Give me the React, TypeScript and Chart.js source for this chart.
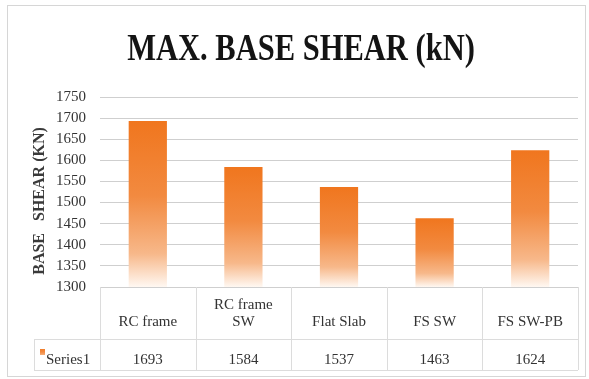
import React, { useEffect, useRef } from "react";
import { Chart, registerables } from "chart.js";

Chart.register(...registerables);

// Chart content
const TITLE = "MAX. BASE SHEAR (kN)";
const Y_TITLE = "BASE   SHEAR (KN)";
const SERIES_NAME = "Series1";
const CATEGORIES = ["RC frame", "RC frame SW", "Flat Slab", "FS SW", "FS SW-PB"];
const BASE_SHEAR = [1693, 1584, 1537, 1463, 1624];
const Y_MIN = 1300;
const Y_MAX = 1750;
const Y_STEP = 50;

const SERIF = '"Liberation Serif", "Times New Roman", serif';
const TEXT = "#333333";
const GRID = "#cfcfcf";
const TABLE_LINE = "#dcdcdc";

function barGradient(ctx: CanvasRenderingContext2D, top: number, bottom: number) {
  const g = ctx.createLinearGradient(0, top, 0, bottom);
  g.addColorStop(0, "rgb(240,118,30)");
  g.addColorStop(0.45, "rgb(242,138,64)");
  g.addColorStop(0.8, "rgb(247,184,138)");
  g.addColorStop(1, "rgb(255,248,242)");
  return g;
}

function wrapText(ctx: CanvasRenderingContext2D, text: string, maxWidth: number): string[] {
  const words = text.split(" ");
  const lines: string[] = [];
  let line = "";
  for (const w of words) {
    const test = line ? line + " " + w : w;
    if (line && ctx.measureText(test).width > maxWidth) {
      lines.push(line);
      line = w;
    } else {
      line = test;
    }
  }
  if (line) lines.push(line);
  return lines;
}

// Draws the frame, the title, the vertical axis title and the data table under the plot
const decorations = {
  id: "decorations",
  afterDraw(chart: any) {
    const ctx: CanvasRenderingContext2D = chart.ctx;
    const area = chart.chartArea;
    const xScale = chart.scales.x;
    const n = CATEGORIES.length;
    const colW = (area.right - area.left) / n;

    ctx.save();

    // outer frame
    ctx.strokeStyle = "#d6d6d6";
    ctx.lineWidth = 1;
    ctx.strokeRect(7.5, 5.5, 578, 371);

    // title
    ctx.save();
    ctx.fillStyle = "#141414";
    ctx.font = `bold 37px ${SERIF}`;
    ctx.textAlign = "center";
    ctx.textBaseline = "alphabetic";
    ctx.translate(301, 60);
    ctx.scale(0.825, 1);
    ctx.fillText(TITLE, 0, 0);
    ctx.restore();

    // vertical axis title
    ctx.save();
    ctx.fillStyle = "#3a3a3a";
    ctx.font = `bold 16px ${SERIF}`;
    ctx.textAlign = "center";
    ctx.textBaseline = "middle";
    ctx.translate(40, 201);
    ctx.rotate(-Math.PI / 2);
    ctx.fillText(Y_TITLE, 0, 0);
    ctx.restore();

    // data table
    const tTop = area.bottom;
    const tMid = 339;
    const tBottom = 370;
    const legendLeft = 34;

    ctx.strokeStyle = TABLE_LINE;
    ctx.lineWidth = 1;
    ctx.beginPath();
    ctx.moveTo(legendLeft, tMid + 0.5);
    ctx.lineTo(area.right, tMid + 0.5);
    ctx.moveTo(legendLeft, tBottom + 0.5);
    ctx.lineTo(area.right, tBottom + 0.5);
    ctx.moveTo(legendLeft + 0.5, tMid);
    ctx.lineTo(legendLeft + 0.5, tBottom);
    for (let i = 0; i <= n; i++) {
      const x = Math.round(area.left + i * colW) + 0.5;
      ctx.moveTo(x, tTop);
      ctx.lineTo(x, tBottom);
    }
    ctx.stroke();

    ctx.fillStyle = TEXT;
    ctx.font = `15px ${SERIF}`;
    ctx.textAlign = "center";
    ctx.textBaseline = "alphabetic";
    CATEGORIES.forEach((label, i) => {
      const cx = xScale.getPixelForValue(i);
      const lines = wrapText(ctx, label, colW - 20);
      const lastBaseline = 326;
      lines.forEach((ln, j) => {
        ctx.fillText(ln, cx, lastBaseline - (lines.length - 1 - j) * 17);
      });
      ctx.fillText(String(BASE_SHEAR[i]), cx, 364);
    });

    // legend key and series name
    ctx.fillStyle = barGradient(ctx, 347, 358);
    ctx.fillRect(40, 349, 5, 6);
    ctx.fillStyle = TEXT;
    ctx.textAlign = "left";
    ctx.fillText(SERIES_NAME, 46, 364);

    ctx.restore();
  },
};

export default function App() {
  const canvasRef = useRef<HTMLCanvasElement | null>(null);

  useEffect(() => {
    document.body.style.margin = "0";
    const canvas = canvasRef.current;
    if (!canvas) return;

    const chart = new Chart(canvas, {
      type: "bar",
      data: {
        labels: CATEGORIES,
        datasets: [
          {
            label: SERIES_NAME,
            data: BASE_SHEAR,
            barPercentage: 0.4,
            categoryPercentage: 1,
            borderWidth: 0,
            backgroundColor: (c: any) => {
              const ch = c.chart;
              if (!ch.chartArea || c.type !== "data") return "rgb(240,118,30)";
              const y = ch.scales.y;
              const top = y.getPixelForValue(c.parsed.y);
              const bottom = y.getPixelForValue(Y_MIN);
              return barGradient(ch.ctx, top, bottom);
            },
          },
        ],
      },
      options: {
        responsive: false,
        animation: false,
        devicePixelRatio: 1,
        layout: { padding: { top: 97, right: 11, bottom: 92, left: 0 } },
        plugins: {
          legend: { display: false },
          title: { display: false },
          tooltip: { enabled: false },
        },
        scales: {
          x: {
            display: false,
            grid: { display: false },
          },
          y: {
            min: Y_MIN,
            max: Y_MAX,
            afterFit: (s: any) => {
              s.width = 100;
            },
            border: { display: false },
            grid: { color: GRID, lineWidth: 1, drawTicks: false },
            ticks: {
              stepSize: Y_STEP,
              padding: 14,
              color: TEXT,
              font: { family: SERIF, size: 15 },
              callback: (v: any) => String(v),
            },
          },
        },
      },
      plugins: [decorations],
    });

    return () => chart.destroy();
  }, []);

  return (
    <div style={{ width: 589, height: 379, background: "#ffffff" }}>
      <canvas ref={canvasRef} width={589} height={379} />
    </div>
  );
}
